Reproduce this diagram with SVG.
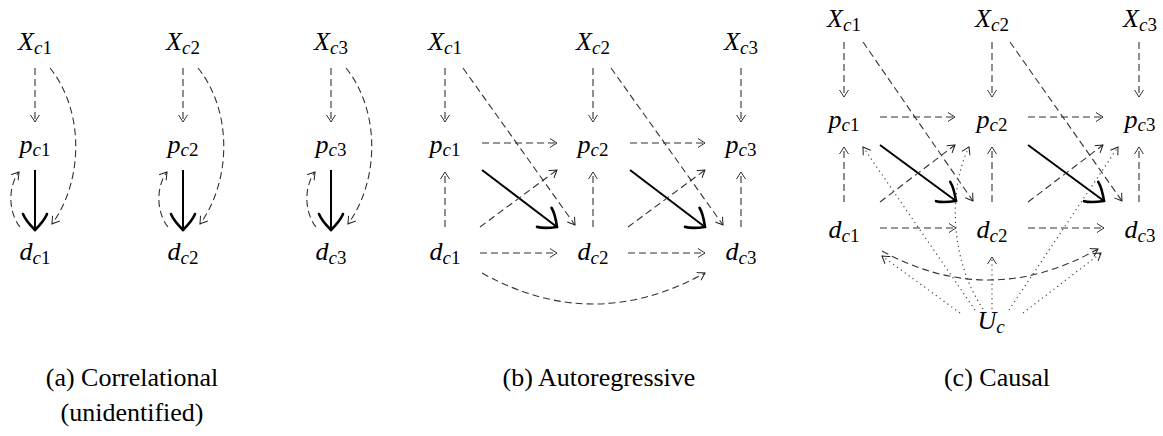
<svg xmlns="http://www.w3.org/2000/svg" width="1163" height="436" viewBox="0 0 1163 436" font-family="Liberation Serif, Times New Roman, serif">
<style>
.m{font-style:italic;font-size:26px;fill:#000;text-anchor:middle}
.s{font-size:19px}
.n{font-style:normal}
.cap{font-size:26px;fill:#000;text-anchor:middle}
.d{fill:none;stroke:#333;stroke-width:1.1;stroke-dasharray:7 4;marker-end:url(#to)}
.t{fill:none;stroke:#000;stroke-width:2;marker-end:url(#big)}
.o{fill:none;stroke:#444;stroke-width:1.2;stroke-dasharray:1.2 3.6;marker-end:url(#to)}
</style>
<defs>
<marker id="to" markerUnits="userSpaceOnUse" viewBox="-10 -7 12 14" refX="0" refY="0" markerWidth="12" markerHeight="14" orient="auto" overflow="visible">
<path d="M -7 -4.5 C -5 -3 -1.2 -0.9 0 0 C -1.2 0.9 -5 3 -7 4.5" fill="none" stroke="#222" stroke-width="1" stroke-dasharray="none"/>
</marker>
<marker id="big" markerUnits="userSpaceOnUse" viewBox="-20 -15 22 30" refX="0" refY="0" markerWidth="22" markerHeight="30" orient="auto" overflow="visible">
<path d="M -16 -12 C -11 -10 -3 -3 0 0 C -3 3 -11 10 -16 12" fill="none" stroke="#000" stroke-width="2.6" stroke-linecap="round"/>
</marker>
</defs>

<g id="connectors">
<path class="d" d="M35 68 L35 122"/>
<path class="d" d="M183 68 L183 122"/>
<path class="d" d="M331 68 L331 122"/>
<path class="t" d="M35 170 L35 230"/>
<path class="t" d="M183 170 L183 230"/>
<path class="t" d="M331 170 L331 230"/>
<path class="d" d="M50 68 C84 110 84 180 52 224"/>
<path class="d" d="M198 68 C232 110 232 180 200 224"/>
<path class="d" d="M346 68 C380 110 380 180 348 224"/>
<path class="d" d="M20 227 C8 212 8 186 19 172"/>
<path class="d" d="M168 227 C156 212 156 186 167 172"/>
<path class="d" d="M316 227 C304 212 304 186 315 172"/>
<path class="d" d="M445 68 L445 122"/>
<path class="d" d="M593 68 L593 122"/>
<path class="d" d="M741 68 L741 122"/>
<path class="d" d="M445 227 L445 172"/>
<path class="d" d="M593 227 L593 172"/>
<path class="d" d="M741 227 L741 172"/>
<path class="d" d="M482 143 L557 143"/>
<path class="d" d="M630 143 L705 143"/>
<path class="d" d="M480 253 L557 253"/>
<path class="d" d="M628 253 L705 253"/>
<path class="t" d="M482 170 L557 227"/>
<path class="t" d="M630 170 L705 227"/>
<path class="d" d="M480 227 L557 170"/>
<path class="d" d="M628 227 L705 170"/>
<path class="d" d="M463 68 L575 225"/>
<path class="d" d="M611 68 L723 225"/>
<path class="d" d="M482 273 Q593 335 705 273"/>
<path class="d" d="M844 42 L844 97"/>
<path class="d" d="M992 42 L992 97"/>
<path class="d" d="M1139 42 L1139 97"/>
<path class="d" d="M844 202 L844 147"/>
<path class="d" d="M992 202 L992 147"/>
<path class="d" d="M1139 202 L1139 147"/>
<path class="d" d="M880 117 L955 117"/>
<path class="d" d="M1028 117 L1103 117"/>
<path class="d" d="M880 228 L956 228"/>
<path class="d" d="M1028 228 L1104 228"/>
<path class="t" d="M880 145 L956 201"/>
<path class="t" d="M1028 145 L1104 201"/>
<path class="d" d="M880 202 L955 145"/>
<path class="d" d="M1028 202 L1103 145"/>
<path class="d" d="M863 42 L973 201"/>
<path class="d" d="M1010 42 L1122 201"/>
<path class="d" d="M882 251 Q990 310 1098 249"/>
<path class="o" d="M975 310 L863 147"/>
<path class="o" d="M960 313 L882 256"/>
<path class="o" d="M983 309 C950 260 948 190 969 147"/>
<path class="o" d="M992 309 L992 257"/>
<path class="o" d="M1009 310 L1118 147"/>
<path class="o" d="M1023 313 L1101 253"/>
</g>

<g id="a-Xc1"><text class="m" x="35" y="50">X<tspan class="s" dy="4">c</tspan><tspan class="s n">1</tspan></text></g>
<g id="a-Xc2"><text class="m" x="183" y="50">X<tspan class="s" dy="4">c</tspan><tspan class="s n">2</tspan></text></g>
<g id="a-Xc3"><text class="m" x="331" y="50">X<tspan class="s" dy="4">c</tspan><tspan class="s n">3</tspan></text></g>
<g id="a-pc1"><text class="m" x="35" y="153">p<tspan class="s" dy="3">c</tspan><tspan class="s n">1</tspan></text></g>
<g id="a-pc2"><text class="m" x="183" y="153">p<tspan class="s" dy="3">c</tspan><tspan class="s n">2</tspan></text></g>
<g id="a-pc3"><text class="m" x="331" y="153">p<tspan class="s" dy="3">c</tspan><tspan class="s n">3</tspan></text></g>
<g id="a-dc1"><text class="m" x="35" y="260">d<tspan class="s" dy="4">c</tspan><tspan class="s n">1</tspan></text></g>
<g id="a-dc2"><text class="m" x="183" y="260">d<tspan class="s" dy="4">c</tspan><tspan class="s n">2</tspan></text></g>
<g id="a-dc3"><text class="m" x="331" y="260">d<tspan class="s" dy="4">c</tspan><tspan class="s n">3</tspan></text></g>

<g id="b-Xc1"><text class="m" x="445" y="50">X<tspan class="s" dy="4">c</tspan><tspan class="s n">1</tspan></text></g>
<g id="b-Xc2"><text class="m" x="593" y="50">X<tspan class="s" dy="4">c</tspan><tspan class="s n">2</tspan></text></g>
<g id="b-Xc3"><text class="m" x="741" y="50">X<tspan class="s" dy="4">c</tspan><tspan class="s n">3</tspan></text></g>
<g id="b-pc1"><text class="m" x="445" y="153">p<tspan class="s" dy="3">c</tspan><tspan class="s n">1</tspan></text></g>
<g id="b-pc2"><text class="m" x="593" y="153">p<tspan class="s" dy="3">c</tspan><tspan class="s n">2</tspan></text></g>
<g id="b-pc3"><text class="m" x="741" y="153">p<tspan class="s" dy="3">c</tspan><tspan class="s n">3</tspan></text></g>
<g id="b-dc1"><text class="m" x="445" y="260">d<tspan class="s" dy="4">c</tspan><tspan class="s n">1</tspan></text></g>
<g id="b-dc2"><text class="m" x="593" y="260">d<tspan class="s" dy="4">c</tspan><tspan class="s n">2</tspan></text></g>
<g id="b-dc3"><text class="m" x="741" y="260">d<tspan class="s" dy="4">c</tspan><tspan class="s n">3</tspan></text></g>

<g id="c-Xc1"><text class="m" x="844" y="27">X<tspan class="s" dy="4">c</tspan><tspan class="s n">1</tspan></text></g>
<g id="c-Xc2"><text class="m" x="992" y="27">X<tspan class="s" dy="4">c</tspan><tspan class="s n">2</tspan></text></g>
<g id="c-Xc3"><text class="m" x="1140" y="27">X<tspan class="s" dy="4">c</tspan><tspan class="s n">3</tspan></text></g>
<g id="c-pc1"><text class="m" x="844" y="128">p<tspan class="s" dy="3">c</tspan><tspan class="s n">1</tspan></text></g>
<g id="c-pc2"><text class="m" x="992" y="128">p<tspan class="s" dy="3">c</tspan><tspan class="s n">2</tspan></text></g>
<g id="c-pc3"><text class="m" x="1140" y="128">p<tspan class="s" dy="3">c</tspan><tspan class="s n">3</tspan></text></g>
<g id="c-dc1"><text class="m" x="844" y="238">d<tspan class="s" dy="4">c</tspan><tspan class="s n">1</tspan></text></g>
<g id="c-dc2"><text class="m" x="992" y="238">d<tspan class="s" dy="4">c</tspan><tspan class="s n">2</tspan></text></g>
<g id="c-dc3"><text class="m" x="1140" y="238">d<tspan class="s" dy="4">c</tspan><tspan class="s n">3</tspan></text></g>
<g id="c-Uc"><text class="m" x="991" y="329">U<tspan class="s" dy="4">c</tspan></text></g>

<g id="captions">
<text class="cap" x="132" y="386">(a) Correlational</text>
<text class="cap" x="132" y="421">(unidentified)</text>
<text class="cap" x="599" y="386">(b) Autoregressive</text>
<text class="cap" x="997" y="386">(c) Causal</text>
</g>
</svg>
